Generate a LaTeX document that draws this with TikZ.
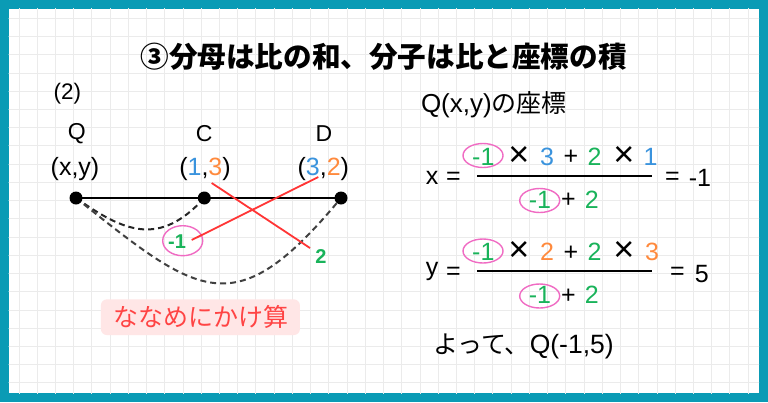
\documentclass[tikz,border=0pt]{standalone}
\usepackage{fontspec}
\setmainfont{Liberation Sans}
\newfontfamily\jp{Noto Sans CJK JP}
\usetikzlibrary{shapes.geometric}
\definecolor{framec}{HTML}{0A9BB5}
\definecolor{gridc}{HTML}{EBEBEB}
\definecolor{blu}{HTML}{3A93DD}
\definecolor{ora}{HTML}{FF8A3D}
\definecolor{grn}{HTML}{19B35A}
\definecolor{pnk}{HTML}{F06BC3}
\definecolor{redl}{HTML}{FF3535}
\definecolor{redt}{HTML}{FF4444}
\definecolor{boxf}{HTML}{FFE6E6}
\begin{document}
\begin{tikzpicture}[x=1pt,y=-1pt,
  txt/.style={inner sep=0pt,outer sep=0pt,anchor=center},
  lbl/.style={txt,font=\fontsize{23}{26}\selectfont},
  crd/.style={txt,font=\fontsize{25}{28}\selectfont},
  eq/.style={txt,font=\fontsize{25}{28}\selectfont},
  tm/.style={txt,font=\fontsize{36}{38}\selectfont},
  gb/.style={txt,font=\bfseries\fontsize{20}{22}\selectfont,text=grn},
  ring/.style={ellipse,draw=pnk,line width=1.4pt,minimum width=#1,minimum height=24pt,inner sep=0pt},
  dot/.style={circle,fill=black,minimum size=13pt,inner sep=0pt},
  dasharc/.style={line width=2pt,dash pattern=on 6pt off 4pt},
  redline/.style={redl,line width=1.8pt},
  fbar/.style={line width=2pt,black}]
\useasboundingbox (0,0) rectangle (768,402);
\fill[framec] (0,0) rectangle (768,402);
\fill[white] (8.5,8.5) rectangle (759,393);
\begin{scope}
\clip (8.5,8.5) rectangle (759,393);
\foreach \i in {0,...,42} \draw[gridc,line width=1pt] ({0.77+18.23*\i},0) -- ++(0,402);
\foreach \j in {0,...,22} \draw[gridc,line width=1pt] (0,{0.1+18.23*\j}) -- ++(768,0);
\end{scope}

% title
\node[txt,font=\jp\bfseries\fontsize{28.6}{32}\selectfont] (title) at (383.5,56.7) {③分母は比の和、分子は比と座標の積};

% left part
\node[txt,font=\fontsize{22.5}{26}\selectfont] (n2) at (67.3,94) {(2)};
\node[lbl] (lQ) at (76.7,134) {Q};
\node[lbl] (lC) at (204.3,133.5) {C};
\node[lbl] (lD) at (324,133.5) {D};
\node[crd] (cQ) at (75,169.5) {(x,y)};
\node[crd] (cC) at (205,169.5) {(\textcolor{blu}{1},\textcolor{ora}{3})};
\node[crd] (cD) at (323.3,169.5) {(\textcolor{blu}{3},\textcolor{ora}{2})};

\coordinate (Q) at (76,198);
\coordinate (C) at (204.3,198);
\coordinate (D) at (341,198);
\draw[line width=2pt] (Q) -- (D);
\draw[dasharc,black!85] (Q) .. controls (124,231.6) and (159,247.5) .. (C);
\draw[dasharc,black!75] (Q) .. controls (200,297) and (235,326) .. (D);

\node[ring=40pt,minimum height=30pt] (e0) at (182.7,240.7) {};
\node[gb] (m1) at (177,241.7) {-1};
\node[gb] (two) at (321,256.7) {2};
\coordinate (r1a) at (211.7,183);
\coordinate (r1b) at (310,248);
\coordinate (r2a) at (318.3,177);
\coordinate (r2b) at (191.7,240);
\draw[redline] (r1a) -- (r1b);
\draw[redline] (r2a) -- (r2b);

\node[dot] (Qd) at (Q) {};
\node[dot] (Cd) at (C) {};
\node[dot] (Dd) at (D) {};

\node[draw=none,fill=boxf,rounded corners=6pt,minimum width=199pt,minimum height=35.7pt,inner sep=0pt] (box) at (200.4,317.2) {};
\node[txt,font=\jp\fontsize{25}{28}\selectfont,text=redt] (nn) at (200.8,317) {ななめにかけ算};

% right part
\node[txt,anchor=west,font=\fontsize{26}{28}\selectfont] (ttl2) at (421,105) {Q(x,y){\jp\fontsize{25}{28}\selectfont の座標}};

% x equation
\node[eq] (xv) at (432,178) {x};
\node[eq] (xeq) at (453.3,178.3) {=};
\coordinate (xb1) at (477.3,175.5);
\coordinate (xb2) at (652.3,175.5);
\draw[fbar] (xb1) -- (xb2);
\node[ring=40pt] (xe1) at (483,155.5) {};
\node[eq,text=grn] (xn1) at (483.3,156.5) {-1};
\node[tm] (xn2) at (519,156) {×};
\node[eq,text=blu] (xn3) at (547,156.5) {3};
\node[eq] (xn4) at (571,157.5) {+};
\node[eq,text=grn] (xn5) at (594.5,156.5) {2};
\node[tm] (xn6) at (624,156) {×};
\node[eq,text=blu] (xn7) at (650.5,156.5) {1};
\node[ring=40pt] (xe2) at (539.7,200.5) {};
\node[eq,text=grn] (xd1) at (540,199.5) {-1};
\node[eq] (xd2) at (568.3,200.5) {+};
\node[eq,text=grn] (xd3) at (591.7,199.5) {2};
\node[eq] (xr1) at (672.5,178.3) {=};
\node[eq] (xr2) at (700,178.3) {-1};

% y equation
\node[eq] (yv) at (432,271) {y};
\node[eq] (yeq) at (453.3,273.8) {=};
\coordinate (yb1) at (477.3,271);
\coordinate (yb2) at (652.3,271);
\draw[fbar] (yb1) -- (yb2);
\node[ring=40pt] (ye1) at (483,251) {};
\node[eq,text=grn] (yn1) at (483.3,252) {-1};
\node[tm] (yn2) at (519,251.5) {×};
\node[eq,text=ora] (yn3) at (547,252) {2};
\node[eq] (yn4) at (571,253) {+};
\node[eq,text=grn] (yn5) at (594.5,252) {2};
\node[tm] (yn6) at (624,251.5) {×};
\node[eq,text=ora] (yn7) at (652,252) {3};
\node[ring=40pt] (ye2) at (539.7,296) {};
\node[eq,text=grn] (yd1) at (540,295) {-1};
\node[eq] (yd2) at (568.3,296) {+};
\node[eq,text=grn] (yd3) at (591.7,295) {2};
\node[eq] (yr1) at (677.5,273.8) {=};
\node[eq] (yr2) at (701.7,273.8) {5};

\node[txt,anchor=west,font=\fontsize{26.5}{28}\selectfont] (res) at (433,346.7) {{\jp\fontsize{25}{28}\selectfont よって、}Q(-1,5)};
\end{tikzpicture}
\end{document}
